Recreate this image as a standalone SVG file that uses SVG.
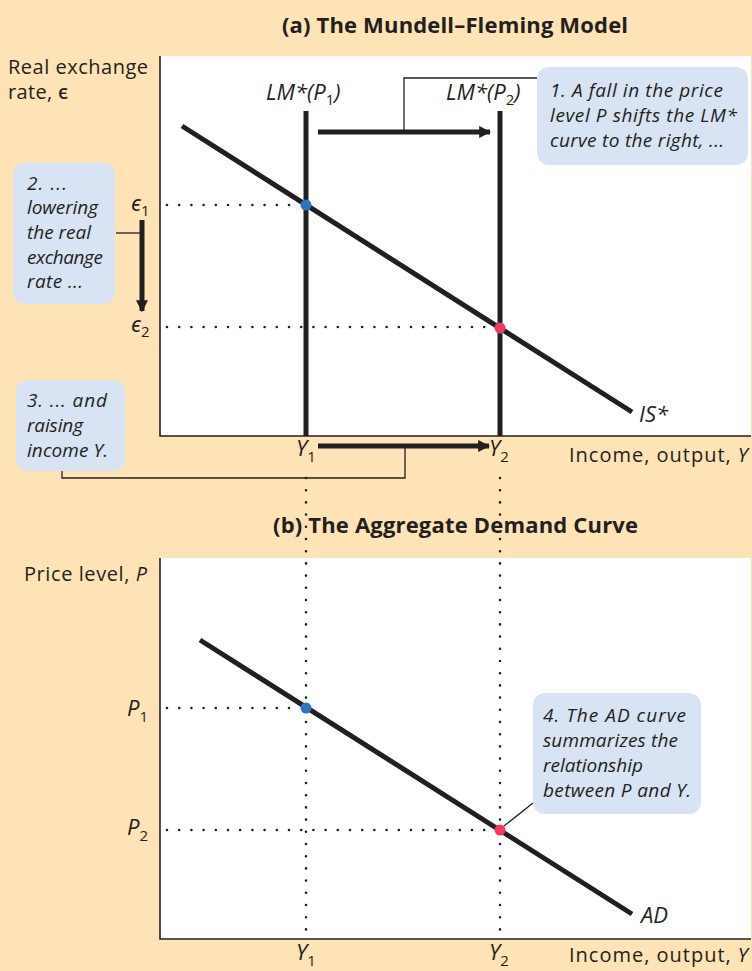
<svg xmlns="http://www.w3.org/2000/svg" width="752" height="971" viewBox="0 0 752 971">
<defs>
<style>
text{font-family:"Open Sans","Noto Sans","Liberation Sans",sans-serif;fill:#231F20}
.title{font-size:22px;font-weight:bold}
.ax{font-size:20px;font-weight:500}
.it{font-size:19px;font-style:italic}
.lab{font-size:22px;font-style:italic}
.sub{font-size:15px;font-style:normal}
.call{fill:#D8E3F3}
.thick{stroke:#231F20;stroke-width:5;fill:none}
.curve{stroke:#231F20;stroke-width:5;fill:none;stroke-linecap:butt}
.thin{stroke:#231F20;stroke-width:1.3;fill:none}
.dot{stroke:#231F20;stroke-width:2.6;stroke-dasharray:0 12.2;stroke-linecap:round;fill:none}
.axis{stroke:#231F20;stroke-width:1.6;fill:none}
</style>
<marker id="ah" viewBox="0 0 10 10" refX="9" refY="5" markerWidth="2.4" markerHeight="2.4" orient="auto" markerUnits="strokeWidth">
<path d="M0,0 L10,5 L0,10 z" fill="#231F20"/>
</marker>
</defs>
<rect x="0" y="0" width="752" height="971" fill="#FDE3B6"/>
<g id="panel-a">
<rect x="160" y="56" width="591" height="380" fill="#FFFFFF"/>
<path class="axis" d="M160,56 V436 H751"/>
<text class="title" x="282" y="33" textLength="346">(a) The Mundell–Fleming Model</text>
<text class="ax" x="8" y="74" textLength="140">Real exchange</text>
<text class="ax" x="8" y="99" textLength="60">rate, ϵ</text>
<text class="ax" x="569" y="462" textLength="179">Income, output, <tspan font-style="italic">Y</tspan></text>
</g>
<g id="panel-b">
<rect x="160" y="558" width="591" height="381" fill="#FFFFFF"/>
<path class="axis" d="M160,558 V939 H751"/>
<text class="title" x="273" y="533" textLength="365">(b) The Aggregate Demand Curve</text>
<text class="ax" x="24" y="581" textLength="123">Price level, <tspan font-style="italic">P</tspan></text>
<text class="ax" x="569" y="962" textLength="179">Income, output, <tspan font-style="italic">Y</tspan></text>
</g>
<g id="connectors">
<path class="dot" d="M167,205 H300"/>
<path class="dot" d="M167,327 H495"/>
<path class="dot" d="M306,478 V932"/>
<path class="dot" d="M500,478 V932"/>
<path class="dot" d="M167,708 H300"/>
<path class="dot" d="M167,830 H495"/>
<path class="thick" d="M318,132 H490" marker-end="url(#ah)"/>
<path class="thick" d="M318,446 H489" marker-end="url(#ah)"/>
<path class="thick" d="M142,220 V311" marker-end="url(#ah)"/>
<path class="thin" d="M404,132 V78 H537"/>
<path class="thin" d="M116,233 H142"/>
<path class="thin" d="M62,471 V478 H405 V448"/>
<path class="thin" d="M533,803 L504,826"/>
</g>
<g id="LM1">
<path class="curve" d="M306,111 V436"/>
<text class="lab" x="266" y="100">LM*(P<tspan class="sub" dy="5">1</tspan><tspan dy="-5">)</tspan></text>
</g>
<g id="LM2">
<path class="curve" d="M500,111 V436"/>
<text class="lab" x="446" y="100">LM*(P<tspan class="sub" dy="5">2</tspan><tspan dy="-5">)</tspan></text>
</g>
<g id="IS">
<path class="curve" d="M182,126 L632,412"/>
<text class="lab" x="639" y="422">IS*</text>
</g>
<g id="AD">
<path class="curve" d="M200,640 L632,914"/>
<text class="lab" x="641" y="923">AD</text>
</g>
<g id="points">
<circle cx="306" cy="205" r="5.5" fill="#2F74C1"/>
<circle cx="500" cy="328" r="5.5" fill="#EE3A5E"/>
<circle cx="306" cy="708" r="5.5" fill="#2F74C1"/>
<circle cx="500" cy="830" r="5.5" fill="#EE3A5E"/>
</g>
<g id="tick-labels">
<text class="lab" x="131" y="211" font-style="normal">ϵ<tspan class="sub" dy="5">1</tspan></text>
<text class="lab" x="131" y="332" font-style="normal">ϵ<tspan class="sub" dy="5">2</tspan></text>
<text class="lab" x="296" y="456">Y<tspan class="sub" dy="6">1</tspan></text>
<text class="lab" x="489" y="456">Y<tspan class="sub" dy="6">2</tspan></text>
<text class="lab" x="127" y="716">P<tspan class="sub" dy="6">1</tspan></text>
<text class="lab" x="127" y="835">P<tspan class="sub" dy="6">2</tspan></text>
<text class="lab" x="296" y="960">Y<tspan class="sub" dy="6">1</tspan></text>
<text class="lab" x="489" y="960">Y<tspan class="sub" dy="6">2</tspan></text>
</g>
<g id="callout1">
<rect class="call" x="537" y="67" width="211" height="98" rx="12"/>
<text class="it" x="550" y="97" textLength="173">1. A fall in the price</text>
<text class="it" x="550" y="122" textLength="187">level P shifts the LM*</text>
<text class="it" x="550" y="147" textLength="174">curve to the right, ...</text>
</g>
<g id="callout2">
<rect class="call" x="13" y="163" width="102" height="141" rx="12"/>
<text class="it" x="27" y="190" textLength="40">2. ...</text>
<text class="it" x="27" y="214" textLength="71">lowering</text>
<text class="it" x="27" y="239" textLength="64">the real</text>
<text class="it" x="27" y="264" textLength="76">exchange</text>
<text class="it" x="27" y="288" textLength="56">rate ...</text>
</g>
<g id="callout3">
<rect class="call" x="16" y="380" width="109" height="91" rx="12"/>
<text class="it" x="27" y="407" textLength="80">3. ... and</text>
<text class="it" x="27" y="432" textLength="56">raising</text>
<text class="it" x="27" y="457" textLength="81">income Y.</text>
</g>
<g id="callout4">
<rect class="call" x="533" y="693" width="168" height="121" rx="12"/>
<text class="it" x="543" y="722" textLength="143">4. The AD curve</text>
<text class="it" x="543" y="747" textLength="135">summarizes the</text>
<text class="it" x="543" y="772" textLength="100">relationship</text>
<text class="it" x="543" y="797" textLength="148">between P and Y.</text>
</g>
</svg>
